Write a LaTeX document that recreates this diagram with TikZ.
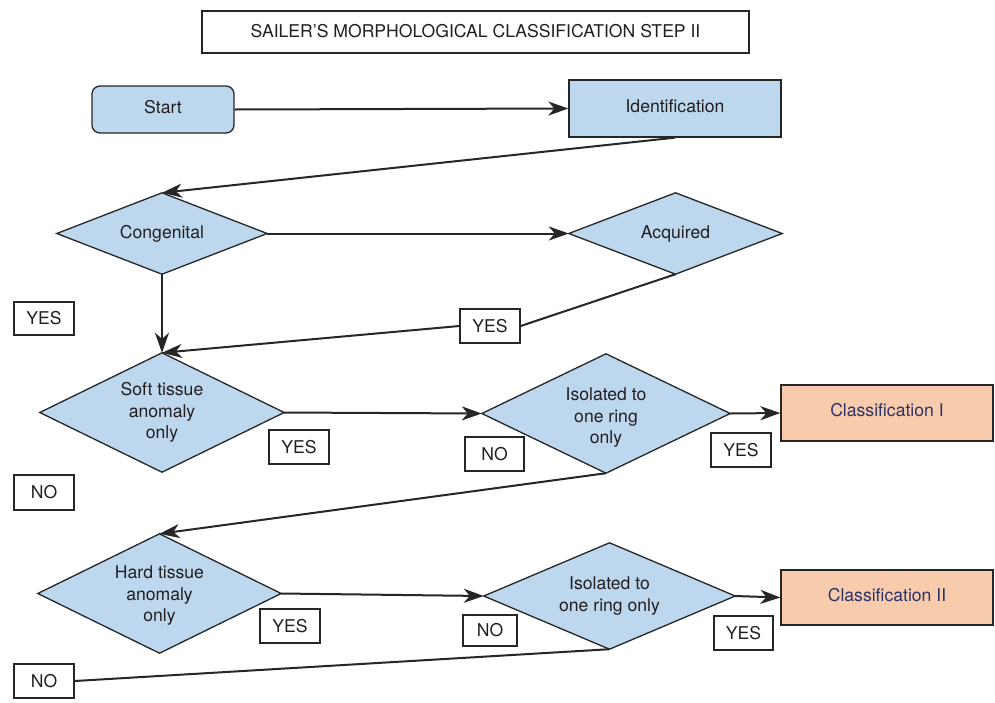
\documentclass[tikz,border=0pt]{standalone}
\usepackage{fontspec}
\setmainfont{TeX Gyre Heros}
\usetikzlibrary{arrows.meta,backgrounds}
\definecolor{bfill}{HTML}{BDD7EE}
\definecolor{ofill}{HTML}{F8CBAD}
\definecolor{edge}{HTML}{262626}
\definecolor{txt}{HTML}{231F20}
\definecolor{navy}{HTML}{2B3468}
\begin{document}
\begin{tikzpicture}[x=1pt,y=-1pt,
  every node/.style={font=\fontsize{17.6}{21.5}\selectfont, text=txt, inner sep=0pt},
  titlebox/.style={draw=edge, line width=1.3pt, fill=white, text depth=3pt},
  startbox/.style={draw=edge, line width=1.3pt, fill=bfill, rounded corners=8pt, text depth=5pt},
  procbox/.style={draw=edge, line width=1.3pt, fill=bfill, text depth=4pt},
  classbox/.style={draw=edge, line width=1.3pt, fill=ofill, text=navy, text depth=6pt},
  dnode/.style={align=center},
  dshape/.style={draw=edge, line width=1.3pt, fill=bfill, line join=miter},
  lab/.style={draw=edge, line width=1.3pt, fill=white},
  conn/.style={draw=edge, line width=2pt},
  arr/.style={conn, -{Stealth[length=20pt,width=14pt,inset=6pt]}}
]
\useasboundingbox (0,0) rectangle (995,702);

% title
\node[titlebox, minimum width=547pt, minimum height=42pt] (title) at (475.5,32) {SAILER’S MORPHOLOGICAL CLASSIFICATION STEP II};

% boxes
\node[startbox, minimum width=142pt, minimum height=47pt] (start) at (163,109.5) {Start};
\node[procbox, minimum width=212pt, minimum height=57pt] (ident) at (675,108.5) {Identification};
\node[classbox, minimum width=212pt, minimum height=56pt] (class1) at (887,413) {Classification I};
\node[classbox, minimum width=212pt, minimum height=55pt] (class2) at (887,597.5) {Classification II};

% decision nodes (diamond outlines drawn behind)
\node[dnode, minimum width=210pt, minimum height=81pt] (cong) at (162,233.5) {Congenital};
\node[dnode, minimum width=213pt, minimum height=81pt] (acq) at (675.5,233.5) {Acquired};
\node[dnode, minimum width=244pt, minimum height=119pt] (soft) at (162,412.5) {Soft tissue\\anomaly\\only};
\node[minimum width=248pt, minimum height=119pt,
      label={[dnode, yshift=-4pt]center:Isolated to\\one ring\\only}] (iso1) at (606,413.5) {};
\node[minimum width=243pt, minimum height=119pt,
      label={[dnode, yshift=-2pt]center:Hard tissue\\anomaly\\only}] (hard) at (159.5,593.5) {};
\node[dnode, minimum width=251pt, minimum height=106pt] (iso2) at (609.5,596) {Isolated to\\one ring only};

\begin{scope}[on background layer]
  \foreach \n in {cong,acq,soft,iso1,hard,iso2}{
    \path[dshape] (\n.west) -- (\n.north) -- (\n.east) -- (\n.south) -- cycle;
  }
\end{scope}

% connectors
\draw[arr] (start.east) -- (ident.west);
\draw[arr] (ident.south) -- (cong.north);
\draw[arr] (cong.east) -- (acq.west);
\draw[arr] (cong.south) -- (soft.north);
\draw[arr] (soft.east) -- (iso1.west);
\draw[arr] (iso1.east) -- (class1.west);
\draw[arr] (iso1.south) -- (hard.north);
\draw[arr] (hard.east) -- (iso2.west);
\draw[arr] (iso2.east) -- (class2.west);

% labels
\node[lab, minimum width=60pt, minimum height=33pt] (yesA) at (44,318.5) {YES};
\node[lab, minimum width=60pt, minimum height=34pt] (yesB) at (490,326) {YES};
\node[lab, minimum width=60pt, minimum height=34pt] (yesC) at (299,447) {YES};
\node[lab, minimum width=59pt, minimum height=34pt] (noA) at (494.5,454) {NO};
\node[lab, minimum width=60pt, minimum height=34pt] (yesD) at (741,450) {YES};
\node[lab, minimum width=60pt, minimum height=35pt] (noB) at (44,492.5) {NO};
\node[lab, minimum width=60pt, minimum height=34pt] (yesE) at (290,626) {YES};
\node[lab, minimum width=54pt, minimum height=31pt] (noC) at (490,630.5) {NO};
\node[lab, minimum width=59pt, minimum height=34pt] (yesF) at (743.5,633) {YES};
\node[lab, minimum width=60pt, minimum height=34pt] (noD) at (44,681) {NO};

\draw[conn] (acq.south) -- (yesB.east);
\draw[arr] (yesB.west) -- (soft.north);
\draw[conn] (iso2.south) -- (noD.east);
\end{tikzpicture}
\end{document}
